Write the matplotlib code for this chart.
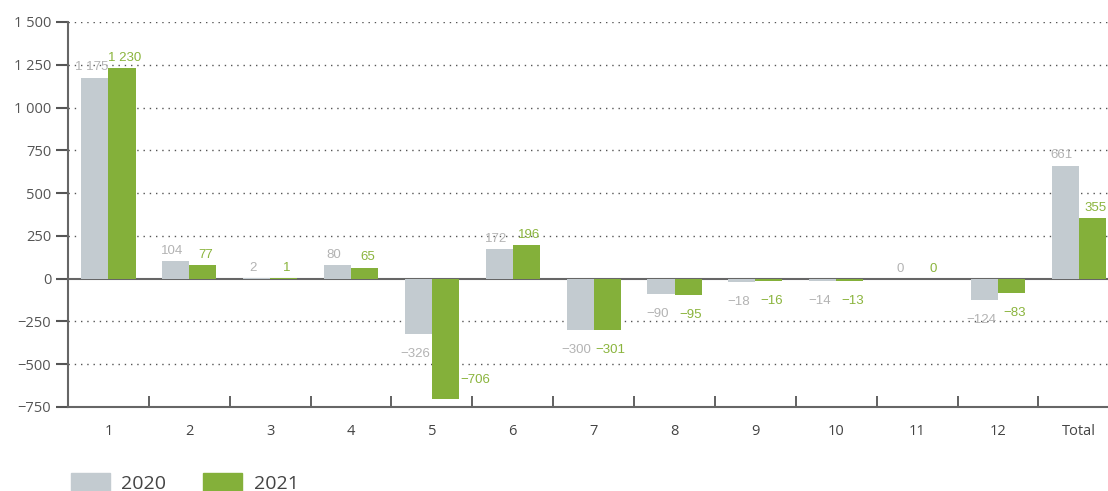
import numpy as np
import matplotlib
matplotlib.use('Agg')
import matplotlib.pyplot as plt
from matplotlib.patches import Patch

# 数据
categories = ['1', '2', '3', '4', '5', '6', '7', '8', '9', '10', '11', '12', 'Total']
values_2020 = [1175, 104, 2, 80, -326, 172, -300, -90, -18, -14, 0, -124, 661]
values_2021 = [1230, 77, 1, 65, -706, 196, -301, -95, -16, -13, 0, -83, 355]
years = ['2020', '2021']

c_grey = '#c3cbd0'
c_green = '#84b03a'
lbl_grey = '#b3b3b3'
lbl_green = '#8ab43c'
dark = '#555555'

plt.rcParams['font.family'] = ['Open Sans', 'DejaVu Sans']


def fmt(v):
    s = '{:,}'.format(abs(int(v))).replace(',', ' ')
    return ('\u2212' + s) if v < 0 else s


fig = plt.figure(figsize=(11.08, 4.91), dpi=100)
ax = fig.add_axes([68 / 1108, 1 - 407 / 491, 1 - 68 / 1108, (407 - 22) / 491])

x = np.arange(len(categories))
w = 0.335
b1 = ax.bar(x - w / 2, values_2020, w, color=c_grey, zorder=3)
b2 = ax.bar(x + w / 2, values_2021, w, color=c_green, zorder=3)

# 数值标签（灰色略偏左，绿色略偏右）
for bars, vals, col, dx in [(b1, values_2020, lbl_grey, -2.5), (b2, values_2021, lbl_green, 2)]:
    for rect, v in zip(bars, vals):
        cx = rect.get_x() + rect.get_width() / 2
        if v >= 0:
            ax.annotate(fmt(v), xy=(cx, v), xytext=(dx, 3), textcoords='offset points',
                        ha='center', va='bottom', color=col, fontsize=9.5,
                        family='Liberation Sans', zorder=4)
        elif v < -600:
            ax.annotate(fmt(v), xy=(rect.get_x() + rect.get_width(), v), xytext=(1, 10),
                        textcoords='offset points', ha='left', va='bottom', color=col,
                        fontsize=9.5, family='Liberation Sans', zorder=4)
        else:
            ax.annotate(fmt(v), xy=(cx, v), xytext=(dx, -10), textcoords='offset points',
                        ha='center', va='top', color=col, fontsize=9.5,
                        family='Liberation Sans', zorder=4)

ax.set_ylim(-750, 1500)
ax.set_xlim(-0.5, 12.36)
yt = np.arange(-750, 1501, 250)
ax.set_yticks(yt)
ax.set_yticklabels([fmt(v) for v in yt], fontsize=10.5, color=dark)

for v in yt:
    if v not in (0, -750):
        ax.axhline(v, color='#555555', lw=1.0, ls=(0, (1, 3.5)), zorder=1)
ax.axhline(0, color='#666666', lw=1.5, zorder=2)

ax.set_xticks(np.arange(0.5, 12, 1))
ax.set_xticklabels([])
ax.tick_params(axis='x', direction='in', length=8, width=1.3, color='#555555')
ax.tick_params(axis='y', direction='out', length=9, width=1.5, color='#555555', pad=3)
for i, c in enumerate(categories):
    ax.text(i, -0.045, c, transform=ax.get_xaxis_transform(), ha='center', va='top',
            fontsize=10.5, color='#444444')

for s in ['top', 'right']:
    ax.spines[s].set_visible(False)
for s in ['left', 'bottom']:
    ax.spines[s].set_color('#666666')
    ax.spines[s].set_linewidth(1.5)

handles = [Patch(color=c_grey), Patch(color=c_green)]
fig.legend(handles, years, loc='lower left', bbox_to_anchor=(0.048, -0.04), ncol=2,
           frameon=False, fontsize=14, handlelength=2.0, handleheight=1.15,
           columnspacing=1.9, handletextpad=0.6, labelcolor='#444444')

fig.savefig('out.png', dpi=100)
